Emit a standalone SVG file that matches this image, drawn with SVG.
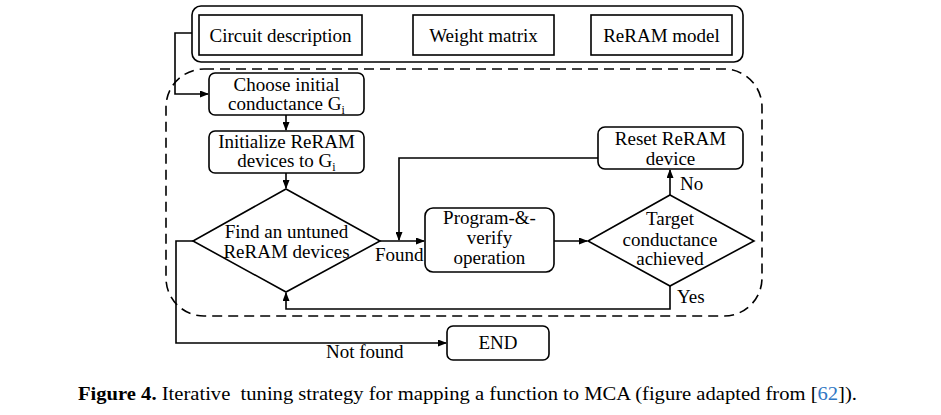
<svg xmlns="http://www.w3.org/2000/svg" width="941" height="415" viewBox="0 0 941 415">
<style>
.box{fill:#fff;stroke:#000;stroke-width:1.6}
.ln{fill:none;stroke:#000;stroke-width:1.6}
.t{font-family:"Liberation Serif",serif;font-size:19px;fill:#000;text-anchor:middle}
.l{font-family:"Liberation Serif",serif;font-size:19px;fill:#000}
.sub{font-size:12px}
.cap{font-family:"Liberation Serif",serif;font-size:19px;fill:#000;white-space:pre}
</style>
<defs>
<marker id="ar" markerWidth="9" markerHeight="7" refX="8" refY="3.5" orient="auto" markerUnits="userSpaceOnUse">
<path d="M0,0 L9,3.5 L0,7 z" fill="#000"/>
</marker>
</defs>
<rect width="941" height="415" fill="#fff"/>
<g id="inputs">
<rect class="box" x="192" y="6" width="551" height="56" rx="9"/>
</g>
<g id="loop">
<rect x="166" y="69" width="596" height="247" rx="38" fill="none" stroke="#000" stroke-width="1.6" stroke-dasharray="10,6"/>
</g>
<g id="connectors">
<path class="ln" d="M192,33 H175 V94 H208" marker-end="url(#ar)"/>
<path class="ln" d="M286,115 V130" marker-end="url(#ar)"/>
<path class="ln" d="M286,173 V188" marker-end="url(#ar)"/>
<path class="ln" d="M380,241 H424" marker-end="url(#ar)"/>
<path class="ln" d="M598,158 H399 V240" marker-end="url(#ar)"/>
<path class="ln" d="M554,241 H587" marker-end="url(#ar)"/>
<path class="ln" d="M670,195 V170" marker-end="url(#ar)"/>
<path class="ln" d="M670,286 V309 H286 V293" marker-end="url(#ar)"/>
<path class="ln" d="M193,241 H176 V343 H446" marker-end="url(#ar)"/>
<text class="l" x="375" y="261">Found</text>
<text class="l" x="680" y="190">No</text>
<text class="l" x="677" y="303">Yes</text>
<text class="l" x="326" y="358">Not found</text>
</g>
<g id="circuit">
<rect class="box" x="199" y="15" width="163" height="40"/>
<text class="t" x="280.5" y="41.5">Circuit description</text>
</g>
<g id="weight">
<rect class="box" x="413" y="15" width="141" height="40"/>
<text class="t" x="483.5" y="41.5">Weight matrix</text>
</g>
<g id="reram-model">
<rect class="box" x="591" y="15" width="141" height="40"/>
<text class="t" x="661.5" y="41.5">ReRAM model</text>
</g>
<g id="choose">
<rect class="box" x="209" y="73" width="155" height="42" rx="6"/>
<text class="t" x="286.5" y="91">Choose initial</text>
<text class="t" x="286.5" y="110">conductance G<tspan class="sub" dy="4">i</tspan></text>
</g>
<g id="init">
<rect class="box" x="209" y="131" width="155" height="42" rx="6"/>
<text class="t" x="286.5" y="148">Initialize ReRAM</text>
<text class="t" x="286.5" y="167">devices to G<tspan class="sub" dy="4">i</tspan></text>
</g>
<g id="find">
<path class="box" d="M286,189 L380,241 L286,292 L193,241 Z"/>
<text class="t" x="286.5" y="238">Find an untuned</text>
<text class="t" x="286.5" y="258">ReRAM devices</text>
</g>
<g id="program">
<rect class="box" x="425" y="208" width="129" height="64" rx="8"/>
<text class="t" x="489.5" y="224">Program-&amp;-</text>
<text class="t" x="489.5" y="244">verify</text>
<text class="t" x="489.5" y="264">operation</text>
</g>
<g id="target">
<path class="box" d="M670,195 L754,241 L670,286 L588,241 Z"/>
<text class="t" x="670" y="225">Target</text>
<text class="t" x="670" y="246">conductance</text>
<text class="t" x="670" y="265">achieved</text>
</g>
<g id="reset">
<rect class="box" x="598" y="127" width="145" height="42" rx="7"/>
<text class="t" x="670.5" y="145">Reset ReRAM</text>
<text class="t" x="670.5" y="165">device</text>
</g>
<g id="end">
<rect class="box" x="447" y="326" width="102" height="34" rx="6"/>
<text class="t" x="498" y="349">END</text>
</g>
<text class="cap" x="78" y="400" textLength="779" lengthAdjust="spacingAndGlyphs"><tspan font-weight="bold">Figure 4.</tspan> Iterative  tuning strategy for mapping a function to MCA (figure adapted from [<tspan fill="#2f77c4">62</tspan>]).</text>
</svg>
